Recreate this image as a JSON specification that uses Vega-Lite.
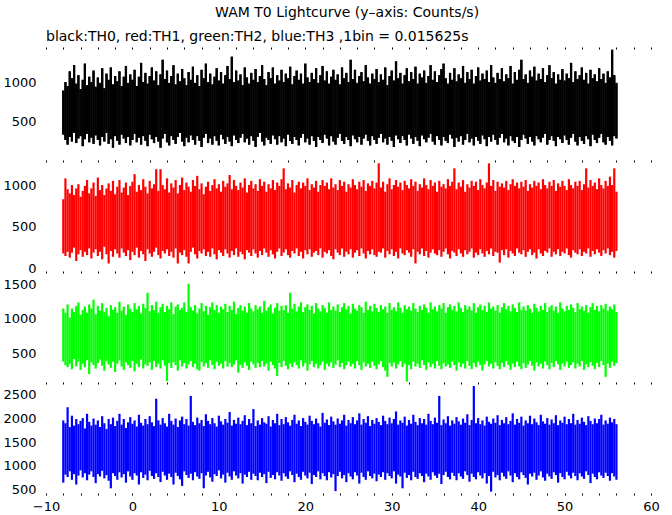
{
"$schema": "https://vega.github.io/schema/vega-lite/v6.json",
"padding": {"left": 2, "top": 5, "right": 5, "bottom": 2},
"bounds": "flush",
"title": {"text": "WAM T0 Lightcurve (y–axis: Counts/s)", "anchor": "middle", "fontSize": 14, "fontWeight": "normal", "font": "DejaVu Sans", "color": "black", "offset": 10, "dx": 16},
"config": {
  "view": {"stroke": null},
  "concat": {"spacing": 0},
  "axis": {"grid": false, "domain": false, "labelFont": "DejaVu Sans", "labelFontSize": 13, "labelColor": "black", "tickColor": "black", "title": null, "labelFlush": false, "labelOverlap": false, "format": "d"},
  "title": {"font": "DejaVu Sans", "fontWeight": "normal", "fontSize": 14, "color": "black"}
},
"data": {"values": [
{"t":-8.00,"l0":330,"h0":900,"l1":180,"h1":830,"l2":380,"h2":1150,"l3":640,"h3":1960},
{"t":-7.75,"l0":260,"h0":1010,"l1":150,"h1":1080,"l2":330,"h2":1090,"l3":810,"h3":1900},
{"t":-7.50,"l0":200,"h0":960,"l1":200,"h1":950,"l2":300,"h2":1210,"l3":760,"h3":2240},
{"t":-7.25,"l0":300,"h0":1150,"l1":130,"h1":900,"l2":350,"h2":1020,"l3":880,"h3":1820},
{"t":-7.00,"l0":240,"h0":1060,"l1":190,"h1":1000,"l2":270,"h2":1150,"l3":700,"h3":2060},
{"t":-6.75,"l0":350,"h0":1230,"l1":250,"h1":880,"l2":420,"h2":1100,"l3":820,"h3":1850},
{"t":-6.50,"l0":220,"h0":990,"l1":90,"h1":960,"l2":310,"h2":1190,"l3":600,"h3":1990},
{"t":-6.25,"l0":280,"h0":1100,"l1":170,"h1":1010,"l2":380,"h2":1240,"l3":790,"h3":1880},
{"t":-6.00,"l0":310,"h0":920,"l1":220,"h1":860,"l2":260,"h2":1060,"l3":900,"h3":1950},
{"t":-5.75,"l0":180,"h0":1040,"l1":140,"h1":930,"l2":350,"h2":1130,"l3":750,"h3":2010},
{"t":-5.50,"l0":270,"h0":1250,"l1":200,"h1":990,"l2":300,"h2":1180,"l3":840,"h3":1790},
{"t":-5.25,"l0":340,"h0":970,"l1":160,"h1":1060,"l2":400,"h2":1090,"l3":690,"h3":2100},
{"t":-5.00,"l0":230,"h0":1080,"l1":240,"h1":900,"l2":200,"h2":1210,"l3":810,"h3":1930},
{"t":-4.75,"l0":290,"h0":1010,"l1":120,"h1":960,"l2":370,"h2":1150,"l3":880,"h3":1850},
{"t":-4.50,"l0":210,"h0":1160,"l1":190,"h1":1030,"l2":330,"h2":1280,"l3":760,"h3":2000},
{"t":-4.25,"l0":320,"h0":950,"l1":230,"h1":870,"l2":280,"h2":1070,"l3":630,"h3":1870},
{"t":-4.00,"l0":260,"h0":1070,"l1":150,"h1":1090,"l2":360,"h2":1190,"l3":820,"h3":1960},
{"t":-3.75,"l0":190,"h0":1000,"l1":200,"h1":940,"l2":410,"h2":1120,"l3":770,"h3":1820},
{"t":-3.50,"l0":300,"h0":1190,"l1":110,"h1":1000,"l2":320,"h2":1230,"l3":890,"h3":2050},
{"t":-3.25,"l0":240,"h0":930,"l1":260,"h1":880,"l2":250,"h2":1100,"l3":730,"h3":1900},
{"t":-3.00,"l0":350,"h0":1120,"l1":170,"h1":960,"l2":390,"h2":1160,"l3":800,"h3":1780},
{"t":-2.75,"l0":210,"h0":1040,"l1":60,"h1":1020,"l2":340,"h2":1040,"l3":680,"h3":1990},
{"t":-2.50,"l0":270,"h0":1200,"l1":210,"h1":930,"l2":290,"h2":1200,"l3":520,"h3":1880},
{"t":-2.25,"l0":160,"h0":980,"l1":140,"h1":1050,"l2":380,"h2":1130,"l3":840,"h3":2020},
{"t":-2.00,"l0":310,"h0":1090,"l1":230,"h1":890,"l2":230,"h2":1170,"l3":780,"h3":1840},
{"t":-1.75,"l0":250,"h0":1020,"l1":180,"h1":980,"l2":350,"h2":1090,"l3":700,"h3":1950},
{"t":-1.50,"l0":200,"h0":1150,"l1":130,"h1":1060,"l2":400,"h2":1250,"l3":860,"h3":2100},
{"t":-1.25,"l0":330,"h0":960,"l1":240,"h1":910,"l2":310,"h2":1120,"l3":750,"h3":1870},
{"t":-1.00,"l0":280,"h0":1080,"l1":190,"h1":970,"l2":260,"h2":1180,"l3":820,"h3":1990},
{"t":-0.75,"l0":220,"h0":1220,"l1":150,"h1":1030,"l2":370,"h2":1060,"l3":640,"h3":1800},
{"t":-0.50,"l0":300,"h0":1000,"l1":220,"h1":880,"l2":330,"h2":1210,"l3":880,"h3":1920},
{"t":-0.25,"l0":190,"h0":1110,"l1":100,"h1":990,"l2":290,"h2":1150,"l3":770,"h3":2030},
{"t":0.00,"l0":260,"h0":1040,"l1":200,"h1":1040,"l2":390,"h2":1100,"l3":700,"h3":1890},
{"t":0.25,"l0":340,"h0":1170,"l1":160,"h1":1130,"l2":240,"h2":1230,"l3":840,"h3":1960},
{"t":0.50,"l0":230,"h0":960,"l1":250,"h1":920,"l2":350,"h2":1140,"l3":790,"h3":1830},
{"t":0.75,"l0":290,"h0":1080,"l1":130,"h1":1000,"l2":300,"h2":1190,"l3":600,"h3":2080},
{"t":1.00,"l0":200,"h0":1260,"l1":210,"h1":940,"l2":410,"h2":1080,"l3":860,"h3":1910},
{"t":1.25,"l0":310,"h0":1010,"l1":170,"h1":1070,"l2":280,"h2":1220,"l3":740,"h3":1850},
{"t":1.50,"l0":250,"h0":1130,"l1":90,"h1":980,"l2":340,"h2":1160,"l3":810,"h3":1990},
{"t":1.75,"l0":180,"h0":990,"l1":230,"h1":900,"l2":320,"h2":1380,"l3":690,"h3":1880},
{"t":2.00,"l0":330,"h0":1090,"l1":180,"h1":1050,"l2":370,"h2":1110,"l3":890,"h3":2050},
{"t":2.25,"l0":270,"h0":1200,"l1":140,"h1":960,"l2":260,"h2":1200,"l3":780,"h3":1920},
{"t":2.50,"l0":220,"h0":1030,"l1":200,"h1":1010,"l2":390,"h2":1130,"l3":720,"h3":1840},
{"t":2.75,"l0":300,"h0":1150,"l1":250,"h1":1190,"l2":300,"h2":1250,"l3":840,"h3":2420},
{"t":3.00,"l0":240,"h0":970,"l1":160,"h1":930,"l2":350,"h2":1090,"l3":760,"h3":1960},
{"t":3.25,"l0":160,"h0":1110,"l1":120,"h1":1190,"l2":280,"h2":1170,"l3":650,"h3":1870},
{"t":3.50,"l0":280,"h0":1300,"l1":210,"h1":1000,"l2":400,"h2":1220,"l3":870,"h3":2010},
{"t":3.75,"l0":340,"h0":1050,"l1":180,"h1":950,"l2":320,"h2":1100,"l3":790,"h3":1900},
{"t":4.00,"l0":230,"h0":1160,"l1":230,"h1":1080,"l2":100,"h2":1190,"l3":700,"h3":1830},
{"t":4.25,"l0":190,"h0":1000,"l1":150,"h1":910,"l2":360,"h2":1140,"l3":830,"h3":2100},
{"t":4.50,"l0":310,"h0":1090,"l1":200,"h1":1020,"l2":290,"h2":1240,"l3":760,"h3":1950},
{"t":4.75,"l0":260,"h0":1230,"l1":130,"h1":970,"l2":370,"h2":1070,"l3":600,"h3":1870},
{"t":5.00,"l0":210,"h0":980,"l1":240,"h1":1060,"l2":330,"h2":1180,"l3":850,"h3":2000},
{"t":5.25,"l0":300,"h0":1120,"l1":60,"h1":900,"l2":250,"h2":1210,"l3":780,"h3":1820},
{"t":5.50,"l0":350,"h0":1020,"l1":190,"h1":1000,"l2":400,"h2":1130,"l3":710,"h3":1960},
{"t":5.75,"l0":240,"h0":1180,"l1":160,"h1":1090,"l2":310,"h2":1160,"l3":570,"h3":2040},
{"t":6.00,"l0":180,"h0":1060,"l1":220,"h1":940,"l2":360,"h2":1240,"l3":880,"h3":1880},
{"t":6.25,"l0":290,"h0":970,"l1":140,"h1":1030,"l2":280,"h2":1100,"l3":800,"h3":1990},
{"t":6.50,"l0":230,"h0":1140,"l1":60,"h1":980,"l2":340,"h2":1510,"l3":740,"h3":1850},
{"t":6.75,"l0":320,"h0":1040,"l1":200,"h1":920,"l2":390,"h2":1170,"l3":830,"h3":2480},
{"t":7.00,"l0":260,"h0":1210,"l1":250,"h1":1060,"l2":300,"h2":1120,"l3":690,"h3":1930},
{"t":7.25,"l0":200,"h0":1000,"l1":170,"h1":990,"l2":350,"h2":1200,"l3":860,"h3":1860},
{"t":7.50,"l0":310,"h0":1100,"l1":120,"h1":1110,"l2":270,"h2":1080,"l3":770,"h3":2020},
{"t":7.75,"l0":250,"h0":960,"l1":210,"h1":950,"l2":250,"h2":1150,"l3":720,"h3":1900},
{"t":8.00,"l0":170,"h0":1170,"l1":180,"h1":1020,"l2":380,"h2":1230,"l3":840,"h3":1970},
{"t":8.25,"l0":290,"h0":1060,"l1":230,"h1":890,"l2":310,"h2":1110,"l3":520,"h3":1840},
{"t":8.50,"l0":340,"h0":1250,"l1":150,"h1":980,"l2":360,"h2":1190,"l3":790,"h3":2090},
{"t":8.75,"l0":220,"h0":1010,"l1":200,"h1":1040,"l2":290,"h2":1060,"l3":870,"h3":1950},
{"t":9.00,"l0":280,"h0":1120,"l1":140,"h1":930,"l2":400,"h2":1170,"l3":750,"h3":1880},
{"t":9.25,"l0":200,"h0":980,"l1":240,"h1":1000,"l2":330,"h2":1240,"l3":660,"h3":2010},
{"t":9.50,"l0":310,"h0":1080,"l1":170,"h1":1070,"l2":270,"h2":1130,"l3":820,"h3":1900},
{"t":9.75,"l0":250,"h0":1190,"l1":110,"h1":960,"l2":380,"h2":1200,"l3":780,"h3":1830},
{"t":10.00,"l0":190,"h0":1030,"l1":220,"h1":1010,"l2":320,"h2":1090,"l3":900,"h3":2060},
{"t":10.25,"l0":330,"h0":1140,"l1":190,"h1":920,"l2":350,"h2":1180,"l3":730,"h3":1940},
{"t":10.50,"l0":270,"h0":990,"l1":150,"h1":1050,"l2":280,"h2":1140,"l3":810,"h3":1870},
{"t":10.75,"l0":210,"h0":1100,"l1":230,"h1":980,"l2":390,"h2":1220,"l3":640,"h3":1990},
{"t":11.00,"l0":300,"h0":1220,"l1":180,"h1":1020,"l2":310,"h2":1100,"l3":850,"h3":1910},
{"t":11.25,"l0":240,"h0":1050,"l1":130,"h1":1120,"l2":360,"h2":1190,"l3":770,"h3":2140},
{"t":11.50,"l0":180,"h0":1340,"l1":210,"h1":950,"l2":300,"h2":1130,"l3":700,"h3":1850},
{"t":11.75,"l0":320,"h0":1010,"l1":160,"h1":1060,"l2":340,"h2":1250,"l3":880,"h3":1970},
{"t":12.00,"l0":260,"h0":1160,"l1":240,"h1":990,"l2":400,"h2":1070,"l3":790,"h3":1890},
{"t":12.25,"l0":220,"h0":1030,"l1":140,"h1":940,"l2":220,"h2":1160,"l3":730,"h3":2020},
{"t":12.50,"l0":290,"h0":1110,"l1":200,"h1":1030,"l2":330,"h2":1200,"l3":840,"h3":1880},
{"t":12.75,"l0":340,"h0":970,"l1":170,"h1":970,"l2":290,"h2":1120,"l3":620,"h3":1950},
{"t":13.00,"l0":230,"h0":1200,"l1":110,"h1":1080,"l2":370,"h2":1180,"l3":810,"h3":2070},
{"t":13.25,"l0":280,"h0":1070,"l1":220,"h1":910,"l2":320,"h2":1090,"l3":760,"h3":1860},
{"t":13.50,"l0":200,"h0":990,"l1":190,"h1":1000,"l2":260,"h2":1230,"l3":870,"h3":1990},
{"t":13.75,"l0":310,"h0":1130,"l1":150,"h1":1050,"l2":380,"h2":1150,"l3":700,"h3":1900},
{"t":14.00,"l0":250,"h0":1040,"l1":230,"h1":960,"l2":340,"h2":1110,"l3":830,"h3":2200},
{"t":14.25,"l0":170,"h0":1180,"l1":180,"h1":1010,"l2":290,"h2":1200,"l3":780,"h3":1840},
{"t":14.50,"l0":300,"h0":1010,"l1":130,"h1":930,"l2":360,"h2":1140,"l3":690,"h3":1960},
{"t":14.75,"l0":350,"h0":1090,"l1":210,"h1":1070,"l2":300,"h2":1180,"l3":850,"h3":1870},
{"t":15.00,"l0":240,"h0":1230,"l1":160,"h1":990,"l2":390,"h2":1090,"l3":760,"h3":2010},
{"t":15.25,"l0":190,"h0":1050,"l1":240,"h1":1040,"l2":310,"h2":1260,"l3":820,"h3":1920},
{"t":15.50,"l0":290,"h0":970,"l1":190,"h1":920,"l2":350,"h2":1120,"l3":630,"h3":1890},
{"t":15.75,"l0":260,"h0":1140,"l1":140,"h1":1010,"l2":250,"h2":1170,"l3":870,"h3":2050},
{"t":16.00,"l0":210,"h0":1060,"l1":220,"h1":960,"l2":380,"h2":1210,"l3":740,"h3":1830},
{"t":16.25,"l0":320,"h0":1200,"l1":170,"h1":1060,"l2":330,"h2":1080,"l3":800,"h3":1970},
{"t":16.50,"l0":270,"h0":990,"l1":120,"h1":940,"l2":280,"h2":1160,"l3":710,"h3":1900},
{"t":16.75,"l0":200,"h0":1100,"l1":200,"h1":1030,"l2":170,"h2":1230,"l3":860,"h3":2100},
{"t":17.00,"l0":310,"h0":1030,"l1":240,"h1":990,"l2":360,"h2":1120,"l3":790,"h3":1860},
{"t":17.25,"l0":230,"h0":1170,"l1":150,"h1":1070,"l2":300,"h2":1190,"l3":680,"h3":1990},
{"t":17.50,"l0":280,"h0":1010,"l1":190,"h1":1200,"l2":390,"h2":1130,"l3":840,"h3":1880},
{"t":17.75,"l0":180,"h0":1120,"l1":230,"h1":950,"l2":320,"h2":1200,"l3":770,"h3":2030},
{"t":18.00,"l0":330,"h0":1060,"l1":160,"h1":1020,"l2":270,"h2":1090,"l3":720,"h3":1920},
{"t":18.25,"l0":250,"h0":1210,"l1":130,"h1":970,"l2":350,"h2":1380,"l3":880,"h3":1850},
{"t":18.50,"l0":210,"h0":980,"l1":210,"h1":1060,"l2":300,"h2":1150,"l3":800,"h3":1970},
{"t":18.75,"l0":300,"h0":1090,"l1":180,"h1":910,"l2":370,"h2":1220,"l3":650,"h3":2080},
{"t":19.00,"l0":260,"h0":1160,"l1":240,"h1":1000,"l2":330,"h2":1110,"l3":830,"h3":1890},
{"t":19.25,"l0":190,"h0":1040,"l1":150,"h1":1040,"l2":280,"h2":1180,"l3":760,"h3":1960},
{"t":19.50,"l0":290,"h0":1120,"l1":200,"h1":960,"l2":400,"h2":1240,"l3":700,"h3":1840},
{"t":19.75,"l0":340,"h0":990,"l1":120,"h1":1030,"l2":310,"h2":1100,"l3":870,"h3":2010},
{"t":20.00,"l0":230,"h0":1250,"l1":220,"h1":990,"l2":360,"h2":1170,"l3":790,"h3":1930},
{"t":20.25,"l0":280,"h0":1070,"l1":170,"h1":1080,"l2":250,"h2":1210,"l3":730,"h3":1870},
{"t":20.50,"l0":200,"h0":1010,"l1":230,"h1":940,"l2":340,"h2":1130,"l3":850,"h3":2060},
{"t":20.75,"l0":310,"h0":1130,"l1":140,"h1":1010,"l2":390,"h2":1190,"l3":610,"h3":1950},
{"t":21.00,"l0":250,"h0":1050,"l1":190,"h1":970,"l2":300,"h2":1080,"l3":800,"h3":1880},
{"t":21.25,"l0":170,"h0":1190,"l1":210,"h1":1050,"l2":350,"h2":1230,"l3":760,"h3":2000},
{"t":21.50,"l0":300,"h0":1000,"l1":160,"h1":920,"l2":280,"h2":1150,"l3":880,"h3":1900},
{"t":21.75,"l0":260,"h0":1100,"l1":240,"h1":1000,"l2":330,"h2":1110,"l3":710,"h3":1830},
{"t":22.00,"l0":220,"h0":1220,"l1":130,"h1":1060,"l2":380,"h2":1200,"l3":840,"h3":2120},
{"t":22.25,"l0":330,"h0":1030,"l1":200,"h1":990,"l2":260,"h2":1160,"l3":780,"h3":1910},
{"t":22.50,"l0":280,"h0":1150,"l1":180,"h1":1030,"l2":350,"h2":1090,"l3":690,"h3":1980},
{"t":22.75,"l0":190,"h0":990,"l1":220,"h1":950,"l2":310,"h2":1240,"l3":860,"h3":1860},
{"t":23.00,"l0":310,"h0":1080,"l1":150,"h1":1080,"l2":370,"h2":1130,"l3":750,"h3":2040},
{"t":23.25,"l0":240,"h0":1170,"l1":110,"h1":970,"l2":290,"h2":1180,"l3":820,"h3":1940},
{"t":23.50,"l0":200,"h0":1040,"l1":230,"h1":1010,"l2":340,"h2":1120,"l3":460,"h3":1870},
{"t":23.75,"l0":290,"h0":1110,"l1":190,"h1":940,"l2":400,"h2":1210,"l3":780,"h3":2000},
{"t":24.00,"l0":340,"h0":980,"l1":160,"h1":1060,"l2":300,"h2":1100,"l3":870,"h3":1890},
{"t":24.25,"l0":250,"h0":1200,"l1":240,"h1":990,"l2":360,"h2":1170,"l3":730,"h3":1960},
{"t":24.50,"l0":210,"h0":1060,"l1":140,"h1":1040,"l2":270,"h2":1230,"l3":800,"h3":2080},
{"t":24.75,"l0":300,"h0":1130,"l1":200,"h1":920,"l2":330,"h2":1140,"l3":650,"h3":1850},
{"t":25.00,"l0":260,"h0":1010,"l1":170,"h1":1010,"l2":380,"h2":1190,"l3":840,"h3":1970},
{"t":25.25,"l0":180,"h0":1300,"l1":230,"h1":970,"l2":310,"h2":1080,"l3":770,"h3":1900},
{"t":25.50,"l0":320,"h0":1050,"l1":130,"h1":1070,"l2":350,"h2":1220,"l3":710,"h3":2030},
{"t":25.75,"l0":270,"h0":1170,"l1":190,"h1":1000,"l2":280,"h2":1150,"l3":860,"h3":1880},
{"t":26.00,"l0":230,"h0":1000,"l1":220,"h1":950,"l2":390,"h2":1120,"l3":790,"h3":1960},
{"t":26.25,"l0":300,"h0":1090,"l1":150,"h1":1040,"l2":330,"h2":1200,"l3":620,"h3":2110},
{"t":26.50,"l0":200,"h0":1140,"l1":240,"h1":980,"l2":260,"h2":1170,"l3":850,"h3":1870},
{"t":26.75,"l0":280,"h0":1020,"l1":180,"h1":1060,"l2":370,"h2":1090,"l3":760,"h3":1990},
{"t":27.00,"l0":330,"h0":1230,"l1":120,"h1":930,"l2":310,"h2":1250,"l3":700,"h3":1910},
{"t":27.25,"l0":250,"h0":1070,"l1":210,"h1":1020,"l2":350,"h2":1130,"l3":880,"h3":2050},
{"t":27.50,"l0":190,"h0":990,"l1":170,"h1":990,"l2":290,"h2":1190,"l3":780,"h3":1840},
{"t":27.75,"l0":310,"h0":1120,"l1":230,"h1":1050,"l2":380,"h2":1110,"l3":730,"h3":1970},
{"t":28.00,"l0":260,"h0":1050,"l1":160,"h1":960,"l2":320,"h2":1220,"l3":830,"h3":1890},
{"t":28.25,"l0":210,"h0":1180,"l1":140,"h1":1030,"l2":270,"h2":1160,"l3":670,"h3":2010},
{"t":28.50,"l0":290,"h0":1010,"l1":200,"h1":1260,"l2":340,"h2":1100,"l3":810,"h3":1930},
{"t":28.75,"l0":340,"h0":1110,"l1":190,"h1":970,"l2":390,"h2":1200,"l3":760,"h3":1860},
{"t":29.00,"l0":230,"h0":1040,"l1":240,"h1":1040,"l2":300,"h2":1140,"l3":860,"h3":2060},
{"t":29.25,"l0":280,"h0":1200,"l1":130,"h1":920,"l2":250,"h2":1180,"l3":700,"h3":1950},
{"t":29.50,"l0":200,"h0":970,"l1":210,"h1":1010,"l2":160,"h2":1090,"l3":840,"h3":1880},
{"t":29.75,"l0":300,"h0":1090,"l1":170,"h1":1080,"l2":360,"h2":1230,"l3":780,"h3":2020},
{"t":30.00,"l0":250,"h0":1160,"l1":230,"h1":950,"l2":310,"h2":1130,"l3":730,"h3":1900},
{"t":30.25,"l0":170,"h0":1030,"l1":150,"h1":1000,"l2":370,"h2":1170,"l3":880,"h3":1990},
{"t":30.50,"l0":320,"h0":1280,"l1":200,"h1":1060,"l2":280,"h2":1110,"l3":620,"h3":2150},
{"t":30.75,"l0":270,"h0":1060,"l1":120,"h1":980,"l2":340,"h2":1240,"l3":810,"h3":1870},
{"t":31.00,"l0":220,"h0":1130,"l1":240,"h1":1030,"l2":390,"h2":1160,"l3":770,"h3":1960},
{"t":31.25,"l0":310,"h0":990,"l1":180,"h1":940,"l2":300,"h2":1090,"l3":520,"h3":1910},
{"t":31.50,"l0":260,"h0":1100,"l1":160,"h1":1050,"l2":350,"h2":1200,"l3":850,"h3":2040},
{"t":31.75,"l0":190,"h0":1190,"l1":220,"h1":1000,"l2":90,"h2":1140,"l3":740,"h3":1850},
{"t":32.00,"l0":330,"h0":1020,"l1":190,"h1":960,"l2":330,"h2":1180,"l3":800,"h3":1970},
{"t":32.25,"l0":280,"h0":1140,"l1":140,"h1":1070,"l2":270,"h2":1120,"l3":690,"h3":1890},
{"t":32.50,"l0":210,"h0":1050,"l1":230,"h1":990,"l2":380,"h2":1230,"l3":870,"h3":2080},
{"t":32.75,"l0":300,"h0":1210,"l1":60,"h1":1040,"l2":310,"h2":1150,"l3":760,"h3":1930},
{"t":33.00,"l0":250,"h0":990,"l1":200,"h1":930,"l2":350,"h2":1100,"l3":720,"h3":1860},
{"t":33.25,"l0":180,"h0":1120,"l1":170,"h1":1010,"l2":290,"h2":1190,"l3":840,"h3":2010},
{"t":33.50,"l0":320,"h0":1070,"l1":240,"h1":970,"l2":400,"h2":1130,"l3":780,"h3":1900},
{"t":33.75,"l0":270,"h0":1160,"l1":150,"h1":1080,"l2":330,"h2":1210,"l3":650,"h3":1990},
{"t":34.00,"l0":230,"h0":1000,"l1":210,"h1":1000,"l2":260,"h2":1160,"l3":830,"h3":1870},
{"t":34.25,"l0":290,"h0":1090,"l1":130,"h1":950,"l2":370,"h2":1090,"l3":770,"h3":2100},
{"t":34.50,"l0":340,"h0":1230,"l1":190,"h1":1060,"l2":300,"h2":1240,"l3":700,"h3":1950},
{"t":34.75,"l0":240,"h0":1040,"l1":230,"h1":990,"l2":350,"h2":1140,"l3":860,"h3":1880},
{"t":35.00,"l0":200,"h0":1150,"l1":180,"h1":1030,"l2":280,"h2":1180,"l3":790,"h3":2020},
{"t":35.25,"l0":310,"h0":1010,"l1":160,"h1":920,"l2":390,"h2":1110,"l3":740,"h3":1910},
{"t":35.50,"l0":260,"h0":1100,"l1":220,"h1":1050,"l2":320,"h2":1200,"l3":830,"h3":2480},
{"t":35.75,"l0":190,"h0":1180,"l1":140,"h1":980,"l2":270,"h2":1150,"l3":610,"h3":1860},
{"t":36.00,"l0":300,"h0":1250,"l1":200,"h1":1010,"l2":360,"h2":1230,"l3":800,"h3":1980},
{"t":36.25,"l0":250,"h0":1060,"l1":240,"h1":960,"l2":310,"h2":1090,"l3":870,"h3":1900},
{"t":36.50,"l0":220,"h0":990,"l1":170,"h1":1070,"l2":340,"h2":1170,"l3":760,"h3":2050},
{"t":36.75,"l0":330,"h0":1130,"l1":120,"h1":990,"l2":290,"h2":1210,"l3":710,"h3":1850},
{"t":37.00,"l0":280,"h0":1040,"l1":210,"h1":1040,"l2":380,"h2":1130,"l3":850,"h3":1960},
{"t":37.25,"l0":170,"h0":1190,"l1":190,"h1":1200,"l2":330,"h2":1190,"l3":780,"h3":1890},
{"t":37.50,"l0":290,"h0":1020,"l1":150,"h1":950,"l2":250,"h2":1110,"l3":690,"h3":2030},
{"t":37.75,"l0":240,"h0":1110,"l1":230,"h1":1030,"l2":370,"h2":1240,"l3":840,"h3":1940},
{"t":38.00,"l0":310,"h0":1060,"l1":180,"h1":980,"l2":300,"h2":1160,"l3":770,"h3":1870},
{"t":38.25,"l0":200,"h0":1220,"l1":140,"h1":1060,"l2":350,"h2":1100,"l3":720,"h3":2000},
{"t":38.50,"l0":260,"h0":1000,"l1":220,"h1":920,"l2":280,"h2":1200,"l3":880,"h3":1910},
{"t":38.75,"l0":340,"h0":1140,"l1":170,"h1":1010,"l2":390,"h2":1140,"l3":800,"h3":2090},
{"t":39.00,"l0":230,"h0":1050,"l1":200,"h1":970,"l2":320,"h2":1180,"l3":660,"h3":1860},
{"t":39.25,"l0":280,"h0":1170,"l1":240,"h1":1050,"l2":270,"h2":1120,"l3":830,"h3":1970},
{"t":39.50,"l0":190,"h0":990,"l1":130,"h1":990,"l2":360,"h2":1230,"l3":760,"h3":2690},
{"t":39.75,"l0":300,"h0":1090,"l1":190,"h1":1040,"l2":300,"h2":1090,"l3":710,"h3":1900},
{"t":40.00,"l0":250,"h0":1200,"l1":160,"h1":940,"l2":380,"h2":1170,"l3":860,"h3":2010},
{"t":40.25,"l0":210,"h0":1030,"l1":230,"h1":1070,"l2":330,"h2":1210,"l3":790,"h3":1880},
{"t":40.50,"l0":320,"h0":1120,"l1":180,"h1":1000,"l2":250,"h2":1130,"l3":730,"h3":1960},
{"t":40.75,"l0":270,"h0":1050,"l1":140,"h1":960,"l2":340,"h2":1190,"l3":840,"h3":1850},
{"t":41.00,"l0":180,"h0":1160,"l1":210,"h1":1030,"l2":390,"h2":1100,"l3":620,"h3":2040},
{"t":41.25,"l0":300,"h0":1010,"l1":170,"h1":1260,"l2":310,"h2":1240,"l3":780,"h3":1930},
{"t":41.50,"l0":240,"h0":1230,"l1":240,"h1":990,"l2":350,"h2":1150,"l3":450,"h3":1890},
{"t":41.75,"l0":330,"h0":1070,"l1":150,"h1":1060,"l2":280,"h2":1180,"l3":870,"h3":2000},
{"t":42.00,"l0":260,"h0":1000,"l1":200,"h1":930,"l2":370,"h2":1120,"l3":750,"h3":1910},
{"t":42.25,"l0":200,"h0":1130,"l1":190,"h1":1040,"l2":320,"h2":1200,"l3":800,"h3":2070},
{"t":42.50,"l0":290,"h0":1050,"l1":70,"h1":980,"l2":270,"h2":1090,"l3":690,"h3":1860},
{"t":42.75,"l0":340,"h0":1190,"l1":220,"h1":1020,"l2":360,"h2":1170,"l3":850,"h3":1970},
{"t":43.00,"l0":230,"h0":1020,"l1":160,"h1":970,"l2":300,"h2":1230,"l3":770,"h3":1900},
{"t":43.25,"l0":280,"h0":1110,"l1":230,"h1":1050,"l2":390,"h2":1140,"l3":720,"h3":2030},
{"t":43.50,"l0":190,"h0":1060,"l1":130,"h1":940,"l2":330,"h2":1190,"l3":880,"h3":1880},
{"t":43.75,"l0":310,"h0":1220,"l1":210,"h1":1010,"l2":260,"h2":1110,"l3":790,"h3":1950},
{"t":44.00,"l0":250,"h0":990,"l1":180,"h1":1070,"l2":350,"h2":1210,"l3":650,"h3":2110},
{"t":44.25,"l0":220,"h0":1140,"l1":150,"h1":990,"l2":300,"h2":1160,"l3":840,"h3":1870},
{"t":44.50,"l0":300,"h0":1040,"l1":240,"h1":1030,"l2":380,"h2":1100,"l3":760,"h3":1990},
{"t":44.75,"l0":170,"h0":1170,"l1":190,"h1":960,"l2":310,"h2":1240,"l3":710,"h3":1910},
{"t":45.00,"l0":260,"h0":1300,"l1":170,"h1":1040,"l2":270,"h2":1130,"l3":860,"h3":2040},
{"t":45.25,"l0":330,"h0":1050,"l1":220,"h1":980,"l2":360,"h2":1180,"l3":800,"h3":1850},
{"t":45.50,"l0":280,"h0":1110,"l1":140,"h1":1060,"l2":290,"h2":1120,"l3":740,"h3":1960},
{"t":45.75,"l0":210,"h0":1000,"l1":200,"h1":930,"l2":340,"h2":1200,"l3":600,"h3":1900},
{"t":46.00,"l0":300,"h0":1160,"l1":230,"h1":1010,"l2":390,"h2":1150,"l3":830,"h3":2060},
{"t":46.25,"l0":240,"h0":1080,"l1":160,"h1":970,"l2":320,"h2":1090,"l3":770,"h3":1880},
{"t":46.50,"l0":190,"h0":1210,"l1":190,"h1":1050,"l2":250,"h2":1220,"l3":850,"h3":2000},
{"t":46.75,"l0":310,"h0":1030,"l1":120,"h1":990,"l2":370,"h2":1160,"l3":700,"h3":1920},
{"t":47.00,"l0":270,"h0":1120,"l1":230,"h1":1030,"l2":310,"h2":1110,"l3":790,"h3":1860},
{"t":47.25,"l0":230,"h0":1050,"l1":180,"h1":950,"l2":350,"h2":1190,"l3":880,"h3":2080},
{"t":47.50,"l0":290,"h0":1190,"l1":150,"h1":1070,"l2":280,"h2":1130,"l3":750,"h3":1940},
{"t":47.75,"l0":340,"h0":1010,"l1":210,"h1":1000,"l2":380,"h2":1230,"l3":680,"h3":1890},
{"t":48.00,"l0":200,"h0":1100,"l1":190,"h1":960,"l2":330,"h2":1100,"l3":830,"h3":2010},
{"t":48.25,"l0":260,"h0":1230,"l1":240,"h1":1040,"l2":270,"h2":1170,"l3":770,"h3":1870},
{"t":48.50,"l0":310,"h0":1060,"l1":140,"h1":990,"l2":360,"h2":1200,"l3":720,"h3":1980},
{"t":48.75,"l0":250,"h0":1140,"l1":200,"h1":1060,"l2":300,"h2":1120,"l3":860,"h3":1900},
{"t":49.00,"l0":180,"h0":990,"l1":170,"h1":930,"l2":390,"h2":1180,"l3":800,"h3":2070},
{"t":49.25,"l0":300,"h0":1110,"l1":230,"h1":1020,"l2":340,"h2":1090,"l3":640,"h3":1860},
{"t":49.50,"l0":270,"h0":1040,"l1":150,"h1":980,"l2":260,"h2":1240,"l3":840,"h3":1960},
{"t":49.75,"l0":220,"h0":1180,"l1":200,"h1":1050,"l2":350,"h2":1150,"l3":760,"h3":1910},
{"t":50.00,"l0":320,"h0":1030,"l1":180,"h1":990,"l2":310,"h2":1110,"l3":710,"h3":2040},
{"t":50.25,"l0":260,"h0":1120,"l1":240,"h1":940,"l2":380,"h2":1190,"l3":870,"h3":1880},
{"t":50.50,"l0":200,"h0":1060,"l1":160,"h1":1070,"l2":290,"h2":1130,"l3":790,"h3":1990},
{"t":50.75,"l0":290,"h0":1260,"l1":130,"h1":1000,"l2":330,"h2":1210,"l3":730,"h3":1900},
{"t":51.00,"l0":340,"h0":1010,"l1":220,"h1":960,"l2":370,"h2":1160,"l3":850,"h3":2100},
{"t":51.25,"l0":240,"h0":1150,"l1":190,"h1":1040,"l2":280,"h2":1100,"l3":780,"h3":1870},
{"t":51.50,"l0":190,"h0":1050,"l1":170,"h1":990,"l2":350,"h2":1230,"l3":690,"h3":1970},
{"t":51.75,"l0":300,"h0":1100,"l1":230,"h1":1050,"l2":310,"h2":1140,"l3":840,"h3":1890},
{"t":52.00,"l0":250,"h0":1200,"l1":150,"h1":940,"l2":390,"h2":1180,"l3":770,"h3":2020},
{"t":52.25,"l0":210,"h0":1040,"l1":200,"h1":1010,"l2":260,"h2":1120,"l3":720,"h3":1930},
{"t":52.50,"l0":310,"h0":1130,"l1":180,"h1":1200,"l2":340,"h2":1200,"l3":880,"h3":1860},
{"t":52.75,"l0":270,"h0":990,"l1":240,"h1":970,"l2":300,"h2":1090,"l3":800,"h3":2050},
{"t":53.00,"l0":180,"h0":1170,"l1":140,"h1":1060,"l2":370,"h2":1170,"l3":630,"h3":1950},
{"t":53.25,"l0":330,"h0":1060,"l1":210,"h1":990,"l2":320,"h2":1230,"l3":830,"h3":1880},
{"t":53.50,"l0":260,"h0":1110,"l1":170,"h1":1030,"l2":270,"h2":1130,"l3":760,"h3":2000},
{"t":53.75,"l0":220,"h0":1020,"l1":230,"h1":950,"l2":360,"h2":1190,"l3":710,"h3":1900},
{"t":54.00,"l0":290,"h0":1190,"l1":190,"h1":1080,"l2":300,"h2":1110,"l3":860,"h3":1990},
{"t":54.25,"l0":340,"h0":1050,"l1":150,"h1":1000,"l2":390,"h2":1200,"l3":790,"h3":2080},
{"t":54.50,"l0":230,"h0":1120,"l1":220,"h1":960,"l2":330,"h2":1150,"l3":740,"h3":1870},
{"t":54.75,"l0":200,"h0":1000,"l1":180,"h1":1050,"l2":160,"h2":1220,"l3":850,"h3":1960},
{"t":55.00,"l0":300,"h0":1150,"l1":240,"h1":990,"l2":350,"h2":1120,"l3":780,"h3":1890},
{"t":55.25,"l0":250,"h0":1070,"l1":160,"h1":1100,"l2":290,"h2":1180,"l3":680,"h3":2020},
{"t":55.50,"l0":190,"h0":1430,"l1":200,"h1":1000,"l2":380,"h2":1140,"l3":840,"h3":1920},
{"t":55.75,"l0":310,"h0":1100,"l1":130,"h1":1200,"l2":320,"h2":1210,"l3":770,"h3":1990},
{"t":56.00,"l0":280,"h0":1000,"l1":210,"h1":920,"l2":360,"h2":1100,"l3":700,"h3":1880}
]},
"vconcat": [
{
 "title": {"text": "black:TH0, red:TH1, green:TH2, blue:TH3 ,1bin = 0.015625s", "anchor": "start", "frame": "group", "offset": 3},
 "width": 605, "height": 111,
 "layer": [
  {"mark": {"type": "rule", "color": "#000000", "strokeWidth": 2.2},
   "encoding": {
    "x": {"field": "t", "type": "quantitative", "scale": {"domain": [-10, 60], "nice": false, "zero": false}, "axis": {"orient": "top", "values": [-10,-8,-6,-4,-2,0,2,4,6,8,10,12,14,16,18,20,22,24,26,28,30,32,34,36,38,40,42,44,46,48,50,52,54,56,58,60], "labels": false, "tickSize": 2}},
    "y": {"field": "l0", "type": "quantitative", "scale": {"domain": [0, 1440], "nice": false, "zero": false}, "axis": {"values": [500, 1000], "ticks": false, "labelPadding": 10}},
    "y2": {"field": "h0"}}},
  {"mark": {"type": "rule", "color": "#000000", "strokeWidth": 2.2},
   "encoding": {
    "x": {"field": "t", "type": "quantitative", "axis": {"orient": "bottom", "values": [-10,-8,-6,-4,-2,0,2,4,6,8,10,12,14,16,18,20,22,24,26,28,30,32,34,36,38,40,42,44,46,48,50,52,54,56,58,60], "labels": false, "tickSize": 2}},
    "y": {"field": "l0", "type": "quantitative", "axis": {"values": [500, 1000], "ticks": false, "labelPadding": 10}},
    "y2": {"field": "h0"}}}
 ],
 "resolve": {"axis": {"x": "independent"}}
},
{
 "width": 605, "height": 111,
 "mark": {"type": "rule", "color": "#ff0000", "strokeWidth": 2.2},
 "encoding": {
  "x": {"field": "t", "type": "quantitative", "scale": {"domain": [-10, 60], "nice": false, "zero": false}, "axis": {"orient": "bottom", "values": [-10,-8,-6,-4,-2,0,2,4,6,8,10,12,14,16,18,20,22,24,26,28,30,32,34,36,38,40,42,44,46,48,50,52,54,56,58,60], "labels": false, "tickSize": 2}},
  "y": {"field": "l1", "type": "quantitative", "scale": {"domain": [-30, 1300], "nice": false, "zero": false}, "axis": {"values": [0, 500, 1000], "ticks": false, "labelPadding": 10}},
  "y2": {"field": "h1"}}
},
{
 "width": 605, "height": 111,
 "mark": {"type": "rule", "color": "#00ff00", "strokeWidth": 2.2},
 "encoding": {
  "x": {"field": "t", "type": "quantitative", "scale": {"domain": [-10, 60], "nice": false, "zero": false}, "axis": {"orient": "bottom", "values": [-10,-8,-6,-4,-2,0,2,4,6,8,10,12,14,16,18,20,22,24,26,28,30,32,34,36,38,40,42,44,46,48,50,52,54,56,58,60], "labels": false, "tickSize": 2}},
  "y": {"field": "l2", "type": "quantitative", "scale": {"domain": [85, 1695], "nice": false, "zero": false}, "axis": {"values": [500, 1000, 1500], "ticks": false, "labelPadding": 10}},
  "y2": {"field": "h2"}}
},
{
 "width": 605, "height": 111,
 "mark": {"type": "rule", "color": "#0000ff", "strokeWidth": 2.2},
 "encoding": {
  "x": {"field": "t", "type": "quantitative", "scale": {"domain": [-10, 60], "nice": false, "zero": false}, "axis": {"orient": "bottom", "values": [-10,-8,-6,-4,-2,0,2,4,6,8,10,12,14,16,18,20,22,24,26,28,30,32,34,36,38,40,42,44,46,48,50,52,54,56,58,60], "labelExpr": "datum.value % 10 === 0 ? datum.label : ''", "tickSize": 2, "labelPadding": 5}},
  "y": {"field": "l3", "type": "quantitative", "scale": {"domain": [420, 2775], "nice": false, "zero": false}, "axis": {"values": [500, 1000, 1500, 2000, 2500], "ticks": false, "labelPadding": 10}},
  "y2": {"field": "h3"}}
}
]
}
